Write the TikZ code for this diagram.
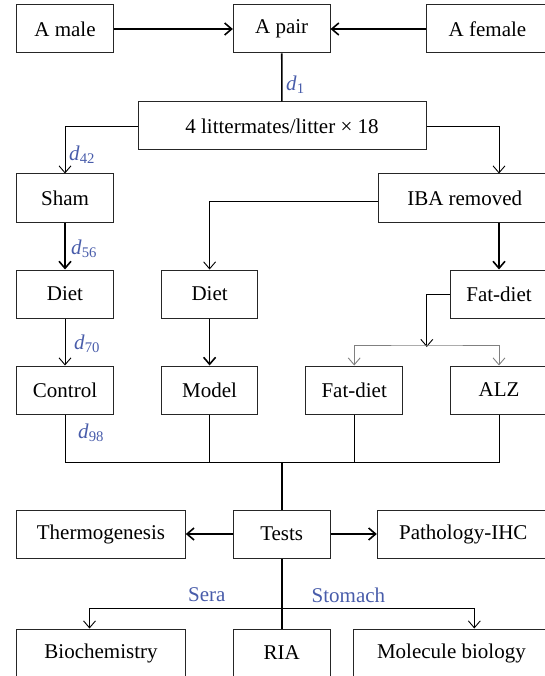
\documentclass[tikz,border=0pt]{standalone}
\usepackage{fontspec}
\setmainfont{Liberation Serif}
\usetikzlibrary{arrows.meta,calc}
\definecolor{lblue}{RGB}{72,92,170}
\newcommand{\dlab}[1]{\textit{d}\textsubscript{#1}}
\begin{document}
\begin{tikzpicture}[x=1pt,y=-1pt,
  box/.style={draw=black!85,line width=1pt,minimum height=48pt,inner sep=0pt,font=\fontsize{21}{25}\selectfont},
  thk/.style={line width=1.6pt},
  thn/.style={line width=0.9pt},
  tip/.style={-{Straight Barb[length=7pt,width=12pt]}},
  tips/.style={{Straight Barb[length=7pt,width=12pt]}-{Straight Barb[length=7pt,width=12pt]}},
  lab/.style={text=lblue,font=\fontsize{21}{25}\selectfont,inner sep=0pt,anchor=west}]
\useasboundingbox (0,0) rectangle (545,676);
\clip (0,0) rectangle (545,676);
% row 1
\node[box,minimum width=96.6pt] (male) at (65,29) {A male};
\node[box,minimum width=96.7pt] (pair) at (281.7,29) {A pair};
\node[box,minimum width=123pt] (female) at (487.5,29) {A female};
% littermates
\node[box,minimum width=288pt] (litter) at (282,126) {4 littermates/litter \texttimes\ 18};
% row 3
\node[box,minimum width=96.6pt] (sham) at (65,198) {Sham};
\node[box,minimum width=173.4pt] (iba) at (464.7,198) {IBA removed};
% row 4
\node[box,minimum width=96.6pt] (diet1) at (65,294) {Diet};
\node[box,minimum width=96pt] (diet2) at (209.6,294) {Diet};
\node[box,minimum width=97pt] (fat1) at (499,294) {Fat-diet};
% row 5
\node[box,minimum width=96.6pt] (control) at (65,390) {Control};
\node[box,minimum width=96pt] (model) at (209.6,390) {Model};
\node[box,minimum width=96.5pt] (fat2) at (354.2,390) {Fat-diet};
\node[box,minimum width=97pt] (alz) at (499,390) {ALZ};
% tests row
\node[box,minimum width=96.7pt] (tests) at (281.7,534) {Tests};
\node[box,minimum width=168.6pt] (thermo) at (101,534) {Thermogenesis};
\node[box,minimum width=172pt] (patho) at (463.3,534) {Pathology-IHC};
% bottom row
\node[box,minimum width=168.6pt] (biochem) at (101,653) {Biochemistry};
\node[box,minimum width=96.7pt] (ria) at (281.7,653) {RIA};
\node[box,minimum width=195.2pt] (molec) at (451.4,653) {Molecule biology};
% coordinates
\coordinate (br) at (426.8,345);
\coordinate (bus) at (281.7,462);
\coordinate (bx) at (89.5,608.5);
\coordinate (mx) at (474.3,608.5);
% connectors
\draw[thk,tip] (male) -- (pair);
\draw[thk,tip] (female) -- (pair);
\draw[thk] (pair) -- (litter);
\draw[thn,tip] (litter.west) -| (sham.north);
\draw[thn,tip] (litter.east) -| (iba.north -| fat1);
\draw[thn,tip] ([yshift=-3.7pt]iba.west) -| (diet2.north);
\draw[thk,tip] (sham) -- (diet1);
\draw[thk,tip] (iba.south -| fat1) -- (fat1.north);
\draw[thn,tip] (diet1) -- (control);
\draw[thk,tip] (diet2) -- (model);
\draw[thn,tip] (fat1.west) -| ([yshift=-2pt]br);
\draw[thn,gray,tips] (fat2.north) |- (br) -| (alz.north);
\draw[thn] (control.south) |- (alz.south |- bus) -- (alz.south);
\draw[thn] (model.south) -- (model.south |- bus);
\draw[thn] (fat2.south) -- (fat2.south |- bus);
\draw[thk] (bus) -- (tests.north);
\draw[thk,tip] (tests) -- (thermo);
\draw[thk,tip] (tests) -- (patho);
\draw[thk] (tests) -- (ria);
\draw[thn,tips] (bx |- biochem.north) -- (bx) -- (mx) -- (mx |- molec.north);
% labels
\node[lab] (l1) at (286,85) {\dlab{1}};
\node[lab] (l42) at (69,155) {\dlab{42}};
\node[lab] (l56) at (71,249) {\dlab{56}};
\node[lab] (l70) at (74,344) {\dlab{70}};
\node[lab] (l98) at (78,433) {\dlab{98}};
\node[lab] (sera) at (188,595) {Sera};
\node[lab] (stomach) at (311.5,595) {Stomach};
\end{tikzpicture}
\end{document}
